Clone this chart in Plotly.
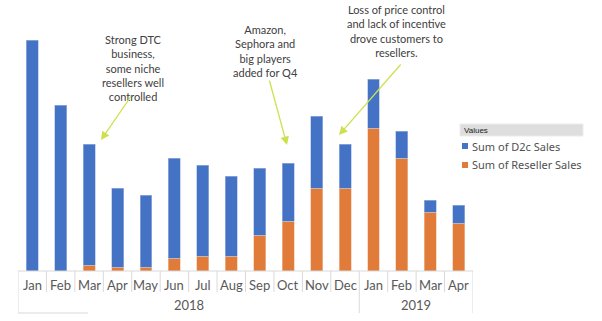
import plotly.graph_objects as go

# Monthly sales by channel (stacked), Jan 2018 - Apr 2019
months = ["Jan", "Feb", "Mar", "Apr", "May", "Jun", "Jul", "Aug", "Sep", "Oct",
          "Nov", "Dec", "Jan", "Feb", "Mar", "Apr"]
years = ["2018", "2019"]
year_counts = [12, 4]
reseller_sales = [0, 0, 6, 4, 4, 13, 15, 15, 36, 50, 83, 83, 143, 113, 59, 48]
d2c_sales = [231, 166, 121, 79, 72, 100, 91, 80, 67, 58, 72, 44, 49, 27, 12, 18]

W, H = 602, 321
X0, X1 = 18, 473          # plot area in pixels
BASE = 271                # baseline pixel row

BLUE = "#4472C4"
ORANGE = "#E07B39"
GRID = "#d9d9d9"
TXT = "#404040"
ARROW = "#cfe04e"

def px(x):
    return x / W

def py(y):
    return (H - y) / H

xs = list(range(len(months)))

fig = go.Figure()
fig.add_bar(x=xs, y=reseller_sales, name="Sum of Reseller Sales",
            marker=dict(color=ORANGE, line=dict(width=0.6, color="#f3c4a4")),
            showlegend=False)
fig.add_bar(x=xs, y=d2c_sales, name="Sum of D2c Sales",
            marker=dict(color=BLUE, line=dict(width=0.6, color="#a9bde6")),
            showlegend=False)

shapes = []
annotations = []

# axis baseline
shapes.append(dict(type="line", xref="x", yref="paper", x0=-0.5, x1=15.5,
                   y0=py(BASE), y1=py(BASE), line=dict(color=GRID, width=1)))
# month separators
for i in range(len(months) + 1):
    xb = i - 0.5
    long_line = i in (0, 12, 16)
    shapes.append(dict(type="line", xref="x", yref="paper", x0=xb, x1=xb,
                       y0=py(BASE), y1=py(313 if long_line else 292),
                       line=dict(color=GRID, width=1)))
# bottom edge
shapes.append(dict(type="line", xref="paper", yref="paper", x0=px(18), x1=px(88),
                   y0=py(313), y1=py(313), line=dict(color=GRID, width=1)))

# month labels
for i, m in enumerate(months):
    annotations.append(dict(x=i, y=py(285), xref="x", yref="paper", text=m,
                            showarrow=False, xanchor="center", yanchor="middle",
                            font=dict(size=13, color="#595959")))
# year labels
start = 0
for yr, n in zip(years, year_counts):
    annotations.append(dict(x=start + (n - 1) / 2, y=py(305), xref="x", yref="paper",
                            text=yr, showarrow=False, xanchor="center", yanchor="middle",
                            font=dict(size=13, color="#595959")))
    start += n

# callout texts
notes = [
    ("Strong DTC<br>business,<br>some niche<br>resellers well<br>controlled", 133, 68),
    ("Amazon,<br>Sephora and<br>big players<br>added for Q4", 265, 51),
    ("Loss of price control<br>and lack of incentive<br>drove customers to<br>resellers.", 396, 31),
]
for text, cx, cy in notes:
    annotations.append(dict(x=px(cx), y=py(cy), xref="paper", yref="paper", text=text,
                            showarrow=False, align="center",
                            xanchor="center", yanchor="middle",
                            font=dict(family="Lato, Open Sans, sans-serif", size=11, color=TXT)))

# callout arrows (head position, tail offset)
arrows = [((101, 140), (31, -45)), ((287, 145), (-18, -66)), ((339, 135), (63, -72))]
for (hx, hy), (ax, ay) in arrows:
    annotations.append(dict(x=px(hx), y=py(hy), xref="paper", yref="paper", text="",
                            showarrow=True, ax=ax, ay=ay, arrowhead=2, arrowsize=1.3,
                            arrowwidth=1.3, arrowcolor=ARROW, standoff=0))

# legend block
shapes.append(dict(type="rect", xref="paper", yref="paper", x0=px(460), x1=px(583),
                   y0=py(136), y1=py(124), fillcolor="#dedede",
                   line=dict(color="#ececec", width=1)))
annotations.append(dict(x=px(462), y=py(130), xref="paper", yref="paper", text="Values",
                        showarrow=False, xanchor="left", yanchor="middle",
                        font=dict(family="Liberation Sans Narrow, Liberation Sans, sans-serif",
                                  size=8, color="#202020")))
legend_items = [("Sum of D2c Sales", BLUE, 146), ("Sum of Reseller Sales", ORANGE, 165)]
for label, color, ly in legend_items:
    shapes.append(dict(type="rect", xref="paper", yref="paper", x0=px(462), x1=px(468),
                       y0=py(ly + 3), y1=py(ly - 3), fillcolor=color, line=dict(width=0)))
    annotations.append(dict(x=px(470), y=py(ly), xref="paper", yref="paper", text=label,
                            showarrow=False, xanchor="left", yanchor="middle",
                            font=dict(family="Noto Sans, sans-serif", size=11, color="#505050")))

fig.update_layout(
    width=W, height=H,
    barmode="stack", bargap=0.58,
    margin=dict(l=0, r=0, t=0, b=0),
    paper_bgcolor="white", plot_bgcolor="white",
    xaxis=dict(domain=[px(X0), px(X1)], range=[-0.5, 15.5], visible=False, fixedrange=True),
    yaxis=dict(domain=[py(BASE), 1], range=[0, BASE], visible=False, fixedrange=True),
    shapes=shapes, annotations=annotations,
    font=dict(family="Lato, sans-serif"),
)

fig.write_html("out.html")
